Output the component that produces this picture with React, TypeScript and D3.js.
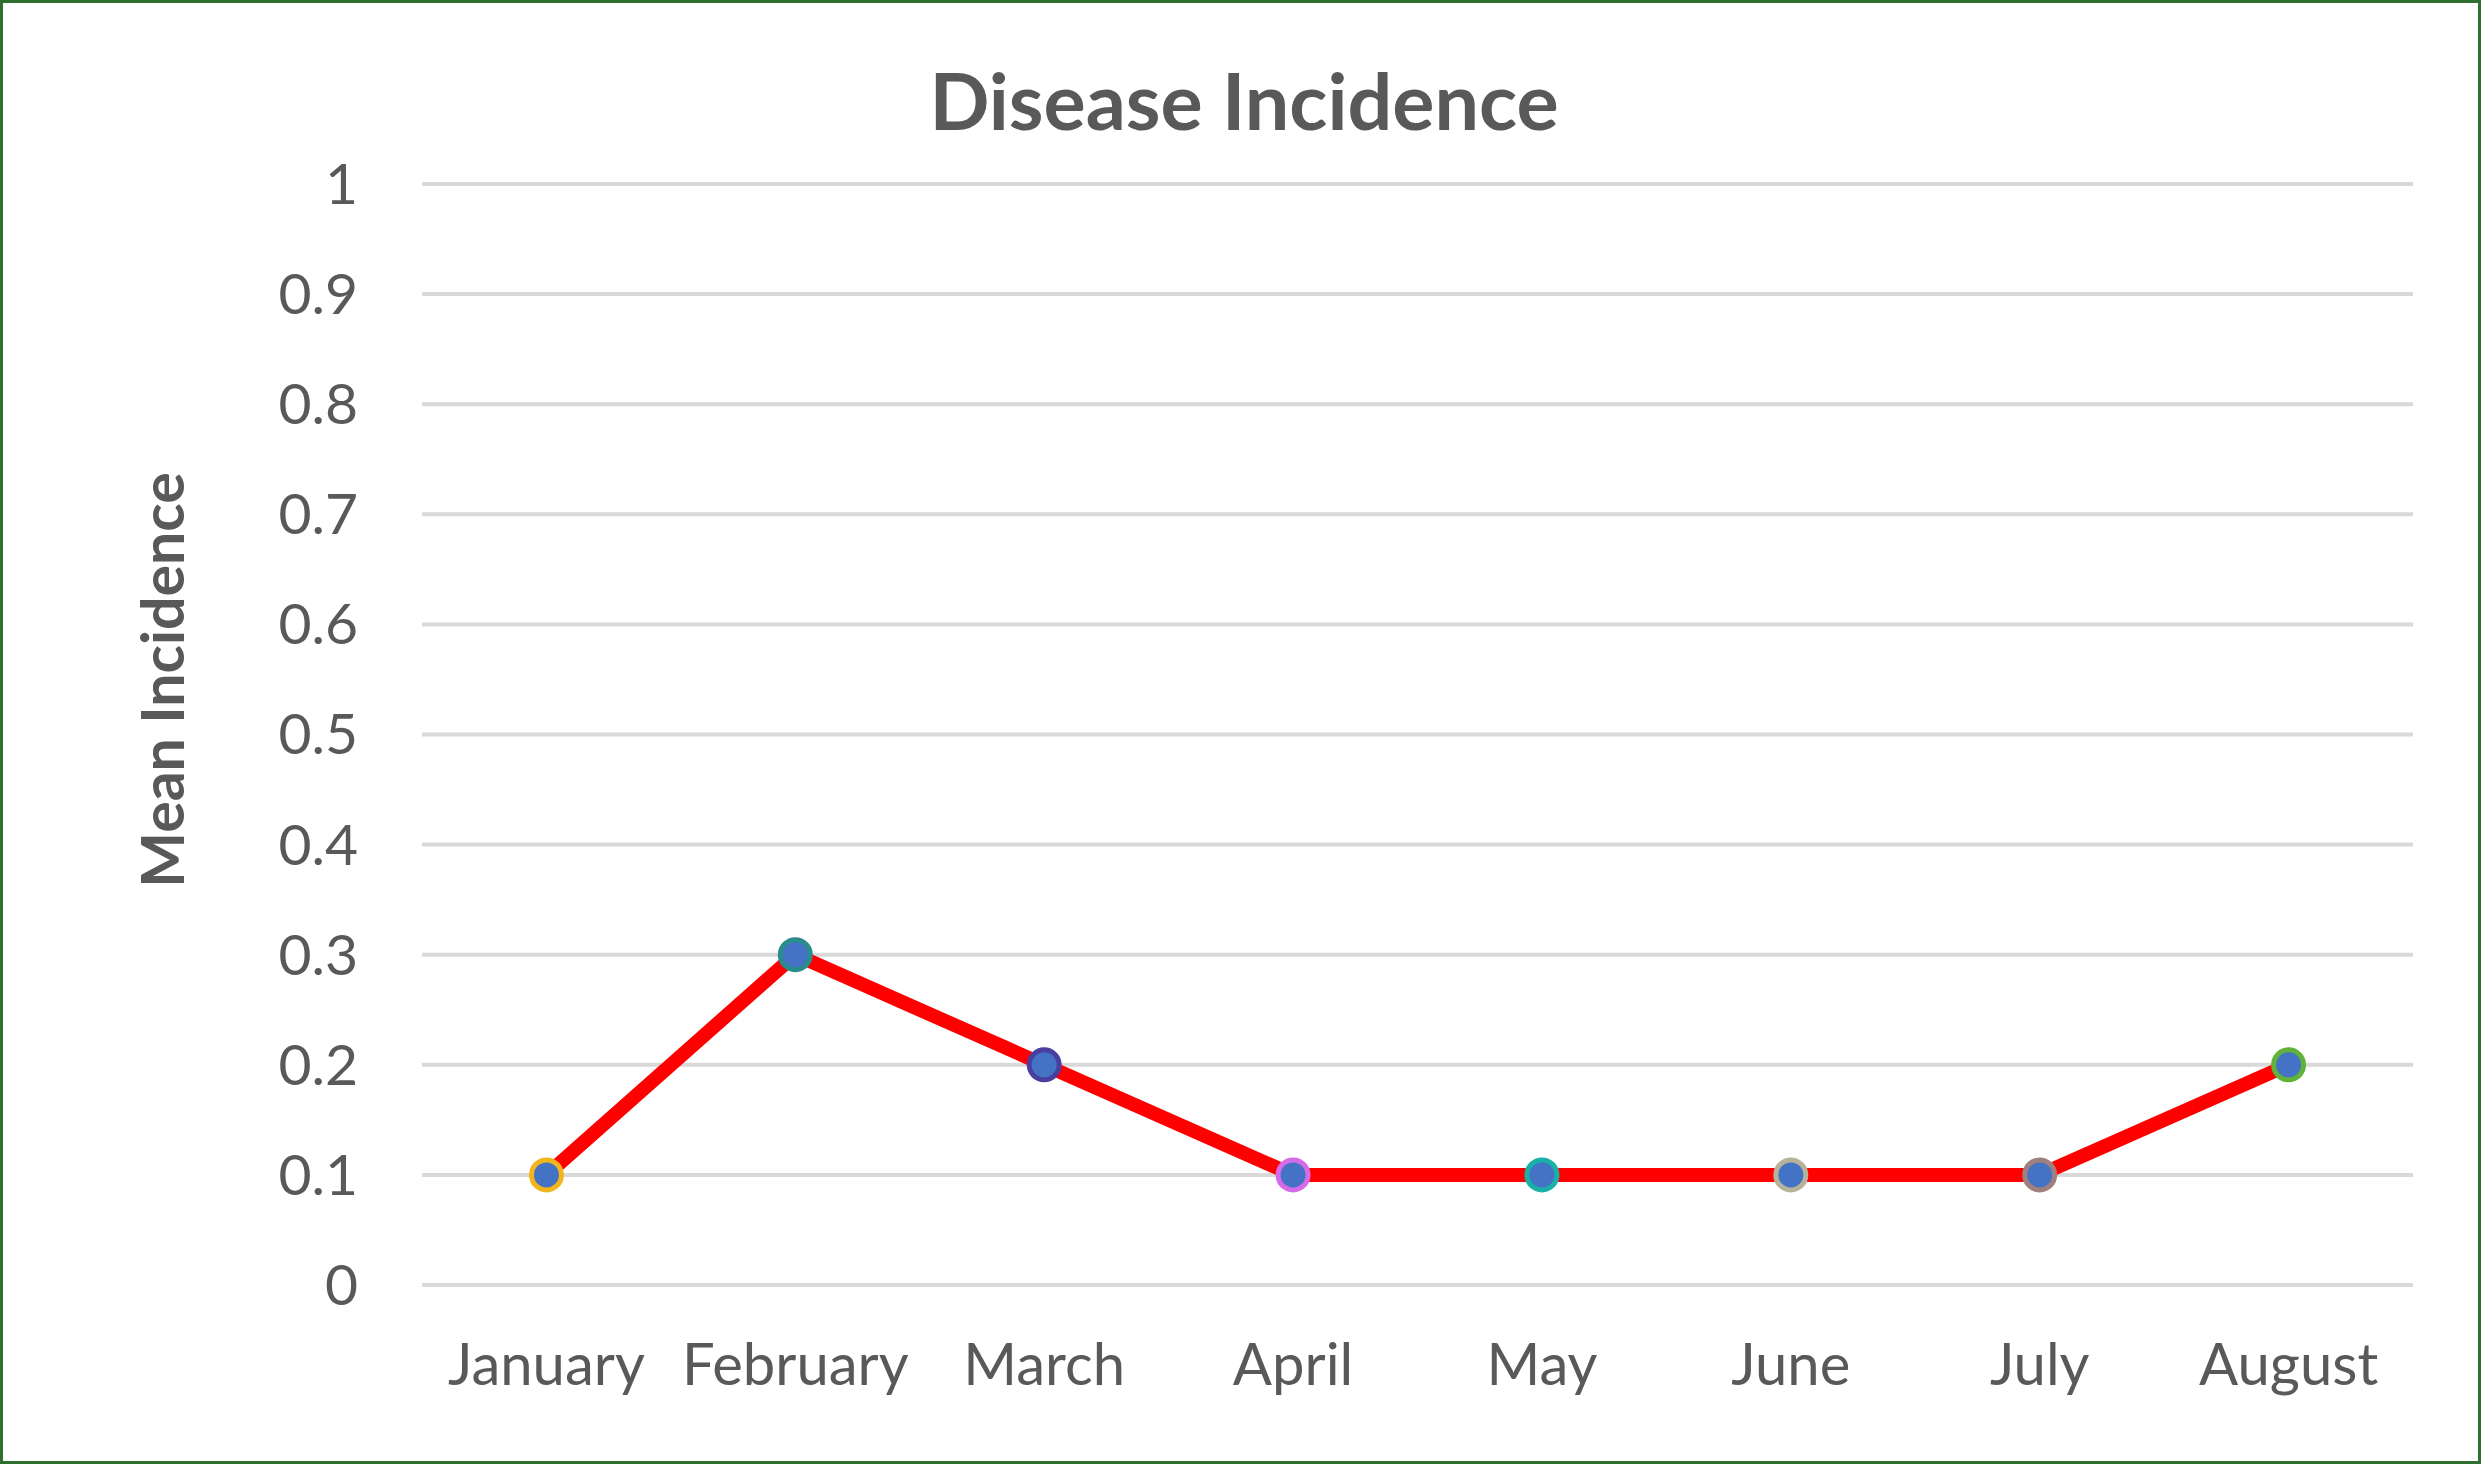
import * as d3 from 'd3'

const months = ['January', 'February', 'March', 'April', 'May', 'June', 'July', 'August']
const incidence = [0.1, 0.3, 0.2, 0.1, 0.1, 0.1, 0.1, 0.2]
const markerRing = ['#f2b51c', '#2a8c8c', '#4a3f9e', '#d56be6', '#19b0a8', '#b7b39a', '#a07f7f', '#5fb33a']
const yTicks = [0, 0.1, 0.2, 0.3, 0.4, 0.5, 0.6, 0.7, 0.8, 0.9, 1]

const W = 2481
const H = 1464
const TEXT = '#595959'
const FONT = 'Lato, Carlito, "Open Sans", sans-serif'

export default function App() {
  const margin = { top: 184, right: 68, bottom: 179, left: 422 }

  const x = d3.scaleBand()
    .domain(months)
    .range([margin.left, W - margin.right])

  const y = d3.scaleLinear()
    .domain([0, 1])
    .range([H - margin.bottom, margin.top])

  const line = d3.line<number>()
    .x((_, i) => x(months[i])! + x.bandwidth() / 2)
    .y(d => y(d))

  return (
    <svg width={W} height={H} style={{ position: 'absolute', left: 0, top: 0, display: 'block' }}>
      <rect x={0} y={0} width={W} height={H} fill="#fff" />
      <rect x={1.5} y={1.5} width={W - 3} height={H - 3} fill="none" stroke="#2f6f2f" strokeWidth={3} />

      {/* title */}
      <text x={1244} y={130} textAnchor="middle" fill={TEXT} fontFamily={FONT}
        fontWeight="bold" fontSize={79}>Disease Incidence</text>

      {/* gridlines */}
      {yTicks.map(t => (
        <line key={t} x1={margin.left} x2={W - margin.right} y1={y(t)} y2={y(t)}
          stroke="#d9d9d9" strokeWidth={4} />
      ))}

      {/* y tick labels */}
      {yTicks.map(t => (
        <text key={t} x={358} y={y(t)} dy="0.35em" textAnchor="end" fill={TEXT}
          fontFamily={FONT} fontSize={57}>{d3.format('~g')(t)}</text>
      ))}

      {/* y axis title */}
      <text transform={`translate(184, 680) rotate(-90)`} textAnchor="middle" fill={TEXT}
        fontFamily={FONT} fontWeight="bold" fontSize={59}>Mean Incidence</text>

      {/* x labels */}
      {months.map(m => (
        <text key={m} x={x(m)! + x.bandwidth() / 2} y={1385} textAnchor="middle" fill={TEXT}
          fontFamily={FONT} fontSize={58}>{m}</text>
      ))}

      {/* series */}
      <path d={line(incidence) ?? ''} fill="none" stroke="#ff0000" strokeWidth={14}
        strokeLinejoin="round" />
      {incidence.map((v, i) => (
        <circle key={months[i]} cx={x(months[i])! + x.bandwidth() / 2} cy={y(v)} r={15}
          fill="#4472c4" stroke={markerRing[i]} strokeWidth={5} />
      ))}
    </svg>
  )
}
